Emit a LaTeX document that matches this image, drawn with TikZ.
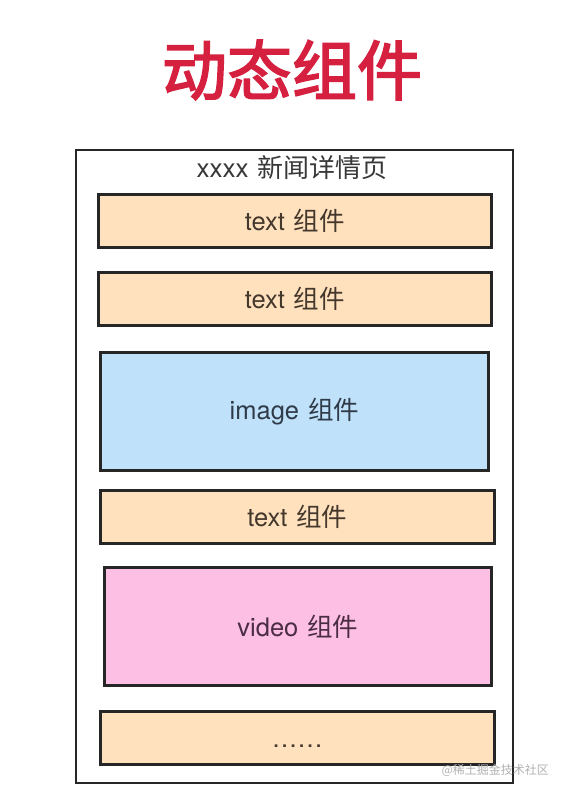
\documentclass[tikz,border=0pt]{standalone}
\usepackage{fontspec}
\setmainfont{TeX Gyre Heros}
\newfontfamily\cjk{Noto Sans CJK SC}
\newfontfamily\cjkbold{Noto Sans CJK SC}[FakeBold=2.5]
\definecolor{titlered}{HTML}{D5203F}
\definecolor{peach}{HTML}{FFE1BE}
\definecolor{skyblue}{HTML}{BFE1FA}
\definecolor{pinkish}{HTML}{FDBFE3}
\definecolor{edge}{HTML}{262626}
\definecolor{txtbrown}{HTML}{44372C}
\definecolor{txtblue}{HTML}{2F3B48}
\definecolor{txtpurple}{HTML}{4A2C44}
\newcommand{\zj}{\hspace*{9pt}{\cjk 组件}}
\newcommand{\mydots}{\raisebox{-9.5pt}[0pt][0pt]{.\hspace{1.4pt}.\hspace{1.4pt}.\hspace{1.4pt}.\hspace{1.4pt}.\hspace{1.4pt}.}}
\tikzset{
  comp/.style={draw=edge, line width=2.8pt, inner sep=0pt, anchor=north west, font=\fontsize{25.5}{28}\selectfont},
  textcomp/.style={comp, fill=peach, text=txtbrown},
  imgcomp/.style={comp, fill=skyblue, text=txtblue},
  vidcomp/.style={comp, fill=pinkish, text=txtpurple},
}
\begin{document}
\begin{tikzpicture}[x=1pt,y=1pt]
\useasboundingbox (0,0) rectangle (563,-795);
\fill[white] (0,0) rectangle (563,-795);
% title
\node[font=\cjkbold\fontsize{65}{70}\selectfont, text=titlered] (title) at (292,-70) {动态组件};
% outer frame
\node[draw=edge, line width=2.2pt, minimum width=437pt, minimum height=633pt, anchor=north west, inner sep=0pt] (frame) at (75,-149) {};
\node[font=\fontsize{26}{30}\selectfont, text=black!78] (header) at (292,-168) {xxxx\hspace*{9pt}{\cjk 新闻详情页}};
% components
\node[textcomp, minimum width=393pt, minimum height=53pt] (t1) at (97,-193) {text\zj};
\node[textcomp, minimum width=393pt, minimum height=53pt] (t2) at (97,-271) {text\zj};
\node[imgcomp, minimum width=388pt, minimum height=118pt] (img) at (99,-351) {image\zj};
\node[textcomp, minimum width=394pt, minimum height=53pt] (t3) at (99,-489) {text\zj};
\node[vidcomp, minimum width=387pt, minimum height=118pt] (vid) at (103,-566) {video\zj};
\node[textcomp, minimum width=394pt, minimum height=53pt] (more) at (99,-710) {\mydots};
% watermark
\node[font=\cjk\fontsize{12}{14}\selectfont, text=black!30, anchor=west] (wm) at (438,-770) {@稀土掘金技术社区};
\end{tikzpicture}
\end{document}
